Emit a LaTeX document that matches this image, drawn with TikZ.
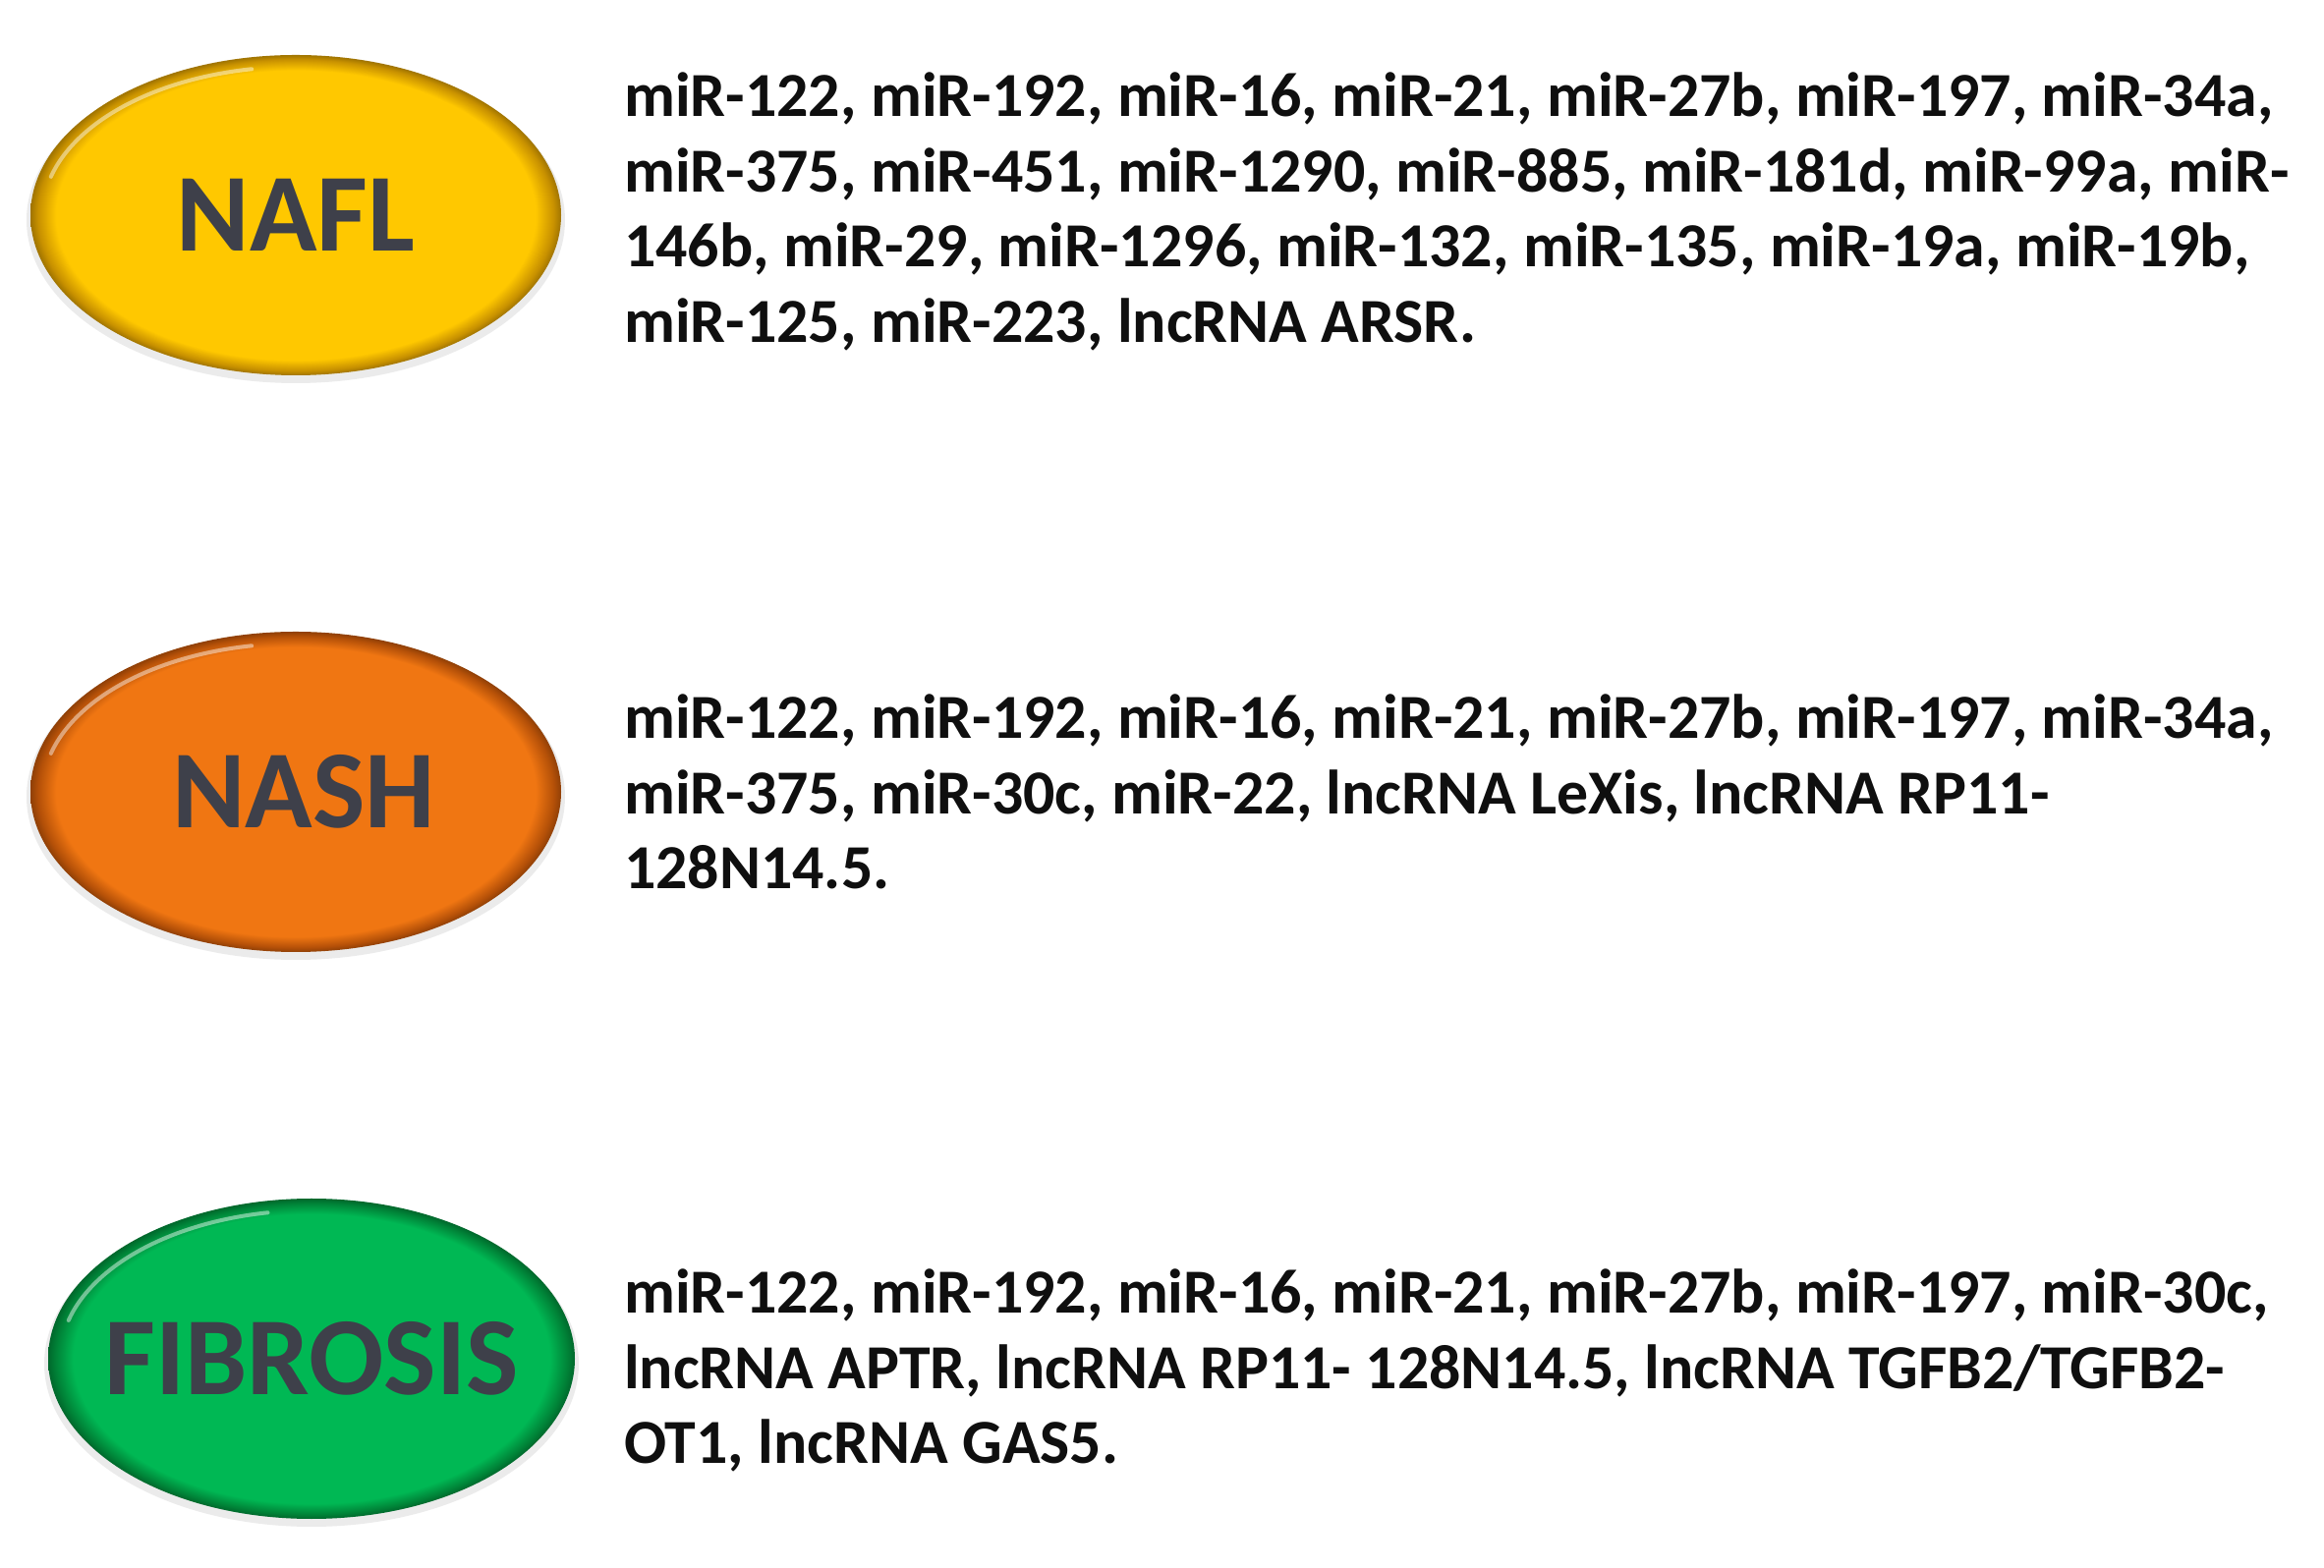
\documentclass[tikz,border=0pt]{standalone}
\usepackage{fontspec}
\setmainfont{Carlito}
\usetikzlibrary{shapes.geometric}
\definecolor{naflmain}{RGB}{255,200,0}
\definecolor{naflrim}{RGB}{200,145,0}
\definecolor{nashmain}{RGB}{240,118,18}
\definecolor{nashrim}{RGB}{180,80,8}
\definecolor{fibmain}{RGB}{0,184,84}
\definecolor{fibrim}{RGB}{0,130,55}
\definecolor{labelgray}{RGB}{62,64,74}
\definecolor{bodytext}{RGB}{15,15,15}
\pgfdeclareradialshading{naflshade}{\pgfpoint{0bp}{0bp}}{color(0bp)=(naflmain); color(22.6bp)=(naflmain); color(24.3bp)=(naflrim); color(25bp)=(naflrim!80!black); color(50bp)=(naflrim!80!black)}
\pgfdeclareradialshading{nashshade}{\pgfpoint{0bp}{0bp}}{color(0bp)=(nashmain); color(22.6bp)=(nashmain); color(24.3bp)=(nashrim); color(25bp)=(nashrim!80!black); color(50bp)=(nashrim!80!black)}
\pgfdeclareradialshading{fibshade}{\pgfpoint{0bp}{0bp}}{color(0bp)=(fibmain); color(22.6bp)=(fibmain); color(24.3bp)=(fibrim); color(25bp)=(fibrim!80!black); color(50bp)=(fibrim!80!black)}
\tikzset{
  blob/.style={ellipse, minimum width=540pt, minimum height=326pt, inner sep=0pt,
    shade, font=\fontsize{113}{113}\selectfont\bfseries, text=labelgray},
  blobshadow/.style={fill=black, opacity=0.08},
  highlight/.style={draw=white, opacity=0.45, line width=4pt, line cap=round},
  bodytxt/.style={anchor=north west, inner sep=0pt, align=left,
    font=\fontsize{63.8}{76.5}\selectfont\bfseries, text=bodytext}
}
\begin{document}
\begin{tikzpicture}[x=1pt,y=1pt]
\useasboundingbox[fill=white] (0,0) rectangle (2365,1595);
% shadows
\fill[blobshadow] (301,1371) ellipse [x radius=274pt, y radius=166pt];
\fill[blobshadow] (301,784) ellipse [x radius=274pt, y radius=166pt];
\fill[blobshadow] (317,207) ellipse [x radius=272pt, y radius=166pt];
% ellipses
\node[blob, shading=naflshade] (nafl) at (301,1376) {\makebox[0pt]{NAFL}};
\node[blob, shading=nashshade] (nash) at (301,789) {\makebox[0pt]{\hspace*{16pt}NASH}};
\node[blob, shading=fibshade, minimum width=536pt] (fib) at (317,212) {\makebox[0pt]{FIBROSIS}};
% highlights
\draw[highlight] ([shift={(100:258pt and 151pt)}]nafl.center) arc[start angle=100, end angle=165, x radius=258pt, y radius=151pt];
\draw[highlight] ([shift={(100:258pt and 151pt)}]nash.center) arc[start angle=100, end angle=165, x radius=258pt, y radius=151pt];
\draw[highlight] ([shift={(100:256pt and 151pt)}]fib.center) arc[start angle=100, end angle=165, x radius=256pt, y radius=151pt];
% texts
\node[bodytxt] (nafltxt) at (635,1527.4) {\rule{0pt}{0.8em}miR-122, miR-192, miR-16, miR-21, miR-27b, miR-197, miR-34a,\\
miR-375, miR-451, miR-1290, miR-885, miR-181d, miR-99a, miR-\\
146b, miR-29, miR-1296, miR-132, miR-135, miR-19a, miR-19b,\\
miR-125, miR-223, lncRNA ARSR.};
\node[bodytxt] (nashtxt) at (635,894.4) {\rule{0pt}{0.8em}miR-122, miR-192, miR-16, miR-21, miR-27b, miR-197, miR-34a,\\
miR-375, miR-30c, miR-22, lncRNA LeXis, lncRNA RP11-\\
128N14.5.};
\node[bodytxt] (fibtxt) at (635,309.4) {\rule{0pt}{0.8em}miR-122, miR-192, miR-16, miR-21, miR-27b, miR-197, miR-30c,\\
lncRNA APTR, lncRNA RP11- 128N14.5, lncRNA TGFB2/TGFB2-\\
OT1, lncRNA GAS5.};
\end{tikzpicture}
\end{document}
